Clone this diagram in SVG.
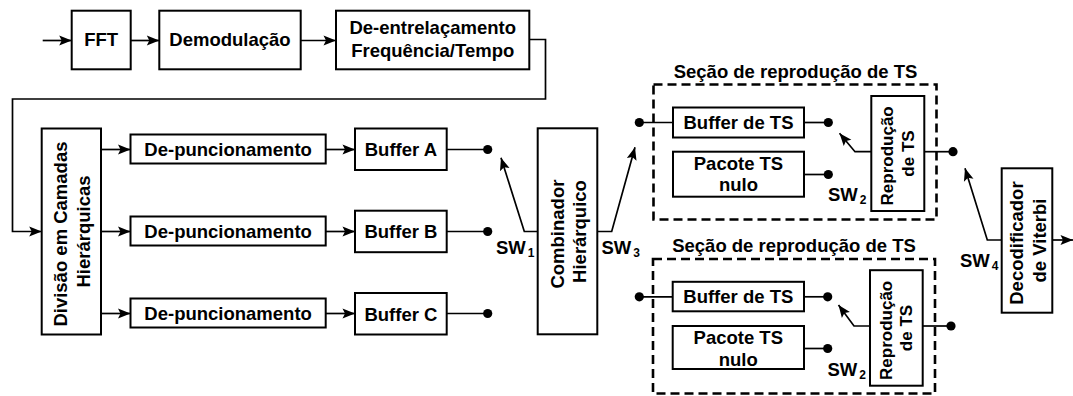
<svg xmlns="http://www.w3.org/2000/svg" width="1073" height="396" viewBox="0 0 1073 396">
  <style>
    .box { fill: #ffffff; stroke: #000000; stroke-width: 2; }
    .dash { fill: none; stroke: #000000; stroke-width: 2.6; stroke-dasharray: 9 5; }
    .ln { fill: none; stroke: #000000; stroke-width: 1.7; }
    .arr { fill: none; stroke: #000000; stroke-width: 1.7; marker-end: url(#head); }
    .dot { fill: #000000; }
    text { font-family: "Liberation Sans", Arial, sans-serif; font-weight: bold; font-size: 18.5px; fill: #000000; }
    .c { text-anchor: middle; }
    .sub { font-size: 12px; }
    .small { font-size: 17px; }
  </style>
  <defs>
    <marker id="head" viewBox="-13 -6 14 12" refX="0" refY="0" markerWidth="14" markerHeight="12" markerUnits="userSpaceOnUse" orient="auto">
      <path d="M0,0 L-12.5,-5 L-10,0 L-12.5,5 Z" fill="#000000"/>
    </marker>
  </defs>

  <!-- signal path connectors -->
  <g id="connectors">
    <line class="arr" x1="42.7" y1="40.5" x2="71.7" y2="40.5"/>
    <line class="arr" x1="130.7" y1="40.5" x2="159.3" y2="40.5"/>
    <line class="arr" x1="300.7" y1="40.5" x2="336" y2="40.5"/>
    <polyline class="arr" points="529.3,39.5 545.5,39.5 545.5,99 12.5,99 12.5,231.5 41.7,231.5"/>

    <line class="arr" x1="101" y1="149.5" x2="130.5" y2="149.5"/>
    <line class="arr" x1="101" y1="231.5" x2="130.5" y2="231.5"/>
    <line class="arr" x1="101" y1="313.5" x2="130.5" y2="313.5"/>

    <line class="arr" x1="325.7" y1="149.5" x2="355" y2="149.5"/>
    <line class="arr" x1="325.7" y1="231.5" x2="355" y2="231.5"/>
    <line class="arr" x1="325.7" y1="313.5" x2="355" y2="313.5"/>

    <line class="ln" x1="446.7" y1="149.5" x2="487.7" y2="149.5"/>
    <line class="ln" x1="446.7" y1="231.5" x2="487.7" y2="231.5"/>
    <line class="ln" x1="446.7" y1="313.5" x2="487.7" y2="313.5"/>
    <circle class="dot" cx="487.7" cy="149.5" r="4.6"/>
    <circle class="dot" cx="487.7" cy="231.5" r="4.6"/>
    <circle class="dot" cx="487.7" cy="313.5" r="4.6"/>

    <!-- SW1 and SW3 switches -->
    <polyline class="arr" points="537.7,231.5 524.3,231.5 501,157.7"/>
    <polyline class="arr" points="597.3,231.5 611.7,231.5 635,147.3"/>

    <!-- SW4 switch and output -->
    <polyline class="arr" points="1001.7,240 987.3,240 965,168.3"/>
    <line class="arr" x1="1052.3" y1="240" x2="1073" y2="240"/>
  </g>

  <!-- top row -->
  <g id="fft">
    <rect class="box" x="71.7" y="10.7" width="59" height="58.6"/>
    <text class="c" x="101.2" y="46">FFT</text>
  </g>
  <g id="demodulacao">
    <rect class="box" x="159.3" y="10.7" width="141.4" height="58.6"/>
    <text class="c" x="230" y="46">Demodulação</text>
  </g>
  <g id="deentrelacamento">
    <rect class="box" x="336" y="10.7" width="193.3" height="58.6"/>
    <text class="c" x="432.7" y="33.5">De-entrelaçamento</text>
    <text class="c" x="432.7" y="57">Frequência/Tempo</text>
  </g>

  <!-- layer split -->
  <g id="divisao">
    <rect class="box" x="41.7" y="128.5" width="59.3" height="206"/>
    <text class="c" transform="translate(71.5,231.5) rotate(-90)">
      <tspan x="0" y="-4.5">Divisão em Camadas</tspan>
      <tspan x="0" y="18.5">Hierárquicas</tspan>
    </text>
  </g>

  <g id="depunc-a">
    <rect class="box" x="130.5" y="134.5" width="195.2" height="29"/>
    <text class="c" x="228.1" y="156">De-puncionamento</text>
  </g>
  <g id="depunc-b">
    <rect class="box" x="130.5" y="216.5" width="195.2" height="29"/>
    <text class="c" x="228.1" y="238">De-puncionamento</text>
  </g>
  <g id="depunc-c">
    <rect class="box" x="130.5" y="298.5" width="195.2" height="29"/>
    <text class="c" x="228.1" y="320">De-puncionamento</text>
  </g>

  <g id="buffer-a">
    <rect class="box" x="355" y="128.5" width="91.7" height="41.5"/>
    <text class="c" x="400.9" y="156">Buffer A</text>
  </g>
  <g id="buffer-b">
    <rect class="box" x="355" y="210.7" width="91.7" height="41.5"/>
    <text class="c" x="400.9" y="238">Buffer B</text>
  </g>
  <g id="buffer-c">
    <rect class="box" x="355" y="293" width="91.7" height="41.5"/>
    <text class="c" x="400.9" y="320.5">Buffer C</text>
  </g>

  <g id="sw1">
    <text x="496" y="254">SW<tspan class="sub" dx="2" dy="3">1</tspan></text>
  </g>

  <g id="combinador">
    <rect class="box" x="537.7" y="128.3" width="59.6" height="206"/>
    <text class="c" transform="translate(567.5,231.5) rotate(-90)">
      <tspan x="0" y="-3.5">Combinador</tspan>
      <tspan x="0" y="18">Hierárquico</tspan>
    </text>
  </g>

  <g id="sw3">
    <text x="601.5" y="254">SW<tspan class="sub" dx="2" dy="3">3</tspan></text>
  </g>

  <!-- TS reproduction section, upper -->
  <g id="secao-ts-1">
    <rect class="dash" x="653.5" y="84.5" width="283" height="135"/>
    <text class="c" x="795.5" y="77.5">Seção de reprodução de TS</text>
    <circle class="dot" cx="639.3" cy="122.5" r="4.6"/>
    <line class="ln" x1="639.3" y1="122.5" x2="673" y2="122.5"/>
    <g id="buffer-ts-1">
      <rect class="box" x="673" y="107.5" width="131" height="30"/>
      <text class="c" x="738.5" y="129">Buffer de TS</text>
    </g>
    <line class="ln" x1="804" y1="122.5" x2="828.3" y2="122.5"/>
    <circle class="dot" cx="828.3" cy="122.5" r="4.6"/>
    <g id="pacote-nulo-1">
      <rect class="box" x="673" y="151.7" width="131" height="45"/>
      <text class="c" x="738.5" y="169.5">Pacote TS</text>
      <text class="c" x="738.5" y="191">nulo</text>
    </g>
    <line class="ln" x1="804" y1="174.5" x2="828.3" y2="174.5"/>
    <circle class="dot" cx="828.3" cy="174.5" r="4.6"/>
    <text x="828" y="201">SW<tspan class="sub" dx="2" dy="3">2</tspan></text>
    <g id="reproducao-1">
      <rect class="box" x="871.3" y="96" width="53" height="115"/>
      <text class="c small" transform="translate(897.8,153.5) rotate(-90)">
        <tspan x="0" y="-4.5">Reprodução</tspan>
        <tspan x="0" y="16">de TS</tspan>
      </text>
    </g>
    <polyline class="arr" points="871.3,151.7 855,151.7 839.5,133.3"/>
    <line class="ln" x1="924.3" y1="151.7" x2="953" y2="151.7"/>
    <circle class="dot" cx="953" cy="151.7" r="4.6"/>
  </g>

  <!-- TS reproduction section, lower -->
  <g id="secao-ts-2">
    <rect class="dash" x="653" y="259" width="282" height="134.5"/>
    <text class="c" x="794" y="252">Seção de reprodução de TS</text>
    <circle class="dot" cx="639.3" cy="296.8" r="4.6"/>
    <line class="ln" x1="639.3" y1="296.8" x2="672.7" y2="296.8"/>
    <g id="buffer-ts-2">
      <rect class="box" x="672.7" y="281.8" width="131.3" height="29.5"/>
      <text class="c" x="738.3" y="303.3">Buffer de TS</text>
    </g>
    <line class="ln" x1="804" y1="296.8" x2="827.7" y2="296.8"/>
    <circle class="dot" cx="827.7" cy="296.8" r="4.6"/>
    <g id="pacote-nulo-2">
      <rect class="box" x="672.7" y="326" width="131.3" height="43"/>
      <text class="c" x="738.3" y="344">Pacote TS</text>
      <text class="c" x="738.3" y="365.5">nulo</text>
    </g>
    <line class="ln" x1="804" y1="348.5" x2="827.7" y2="348.5"/>
    <circle class="dot" cx="827.7" cy="348.5" r="4.6"/>
    <text x="827.5" y="375.5">SW<tspan class="sub" dx="2" dy="3">2</tspan></text>
    <g id="reproducao-2">
      <rect class="box" x="870" y="270.2" width="52.7" height="115.5"/>
      <text class="c small" transform="translate(896.3,328) rotate(-90)">
        <tspan x="0" y="-4.5">Reprodução</tspan>
        <tspan x="0" y="16">de TS</tspan>
      </text>
    </g>
    <polyline class="arr" points="870,326 854,326 838.5,305"/>
    <line class="ln" x1="922.7" y1="326" x2="951" y2="326"/>
    <circle class="dot" cx="951" cy="326" r="4.6"/>
  </g>

  <g id="sw4">
    <text x="960" y="267">SW<tspan class="sub" dx="2" dy="3">4</tspan></text>
  </g>

  <g id="viterbi">
    <rect class="box" x="1001.7" y="168.3" width="50.6" height="144.4"/>
    <text class="c" transform="translate(1027,240.5) rotate(-90)">
      <tspan x="0" y="-4">Decodificador</tspan>
      <tspan x="0" y="18.5">de Viterbi</tspan>
    </text>
  </g>
</svg>
